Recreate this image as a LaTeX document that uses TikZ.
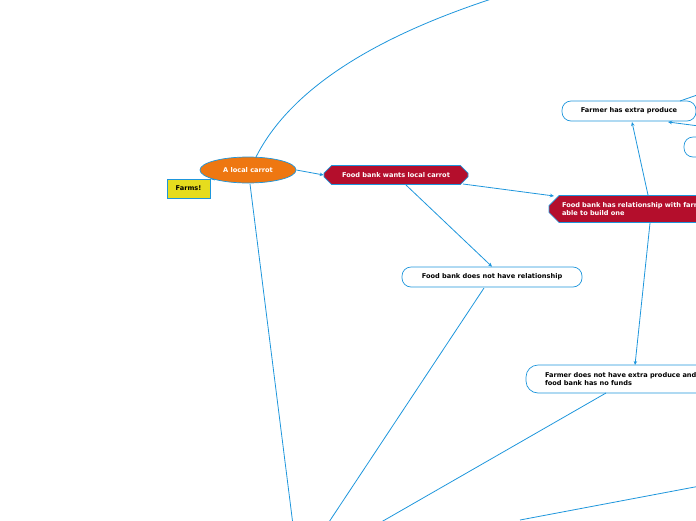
\documentclass[tikz,border=0pt]{standalone}
\usepackage{fontspec}
\setmainfont{DejaVu Sans}
\usetikzlibrary{shapes.misc,shapes.geometric,arrows.meta}
\definecolor{bl}{HTML}{1E96DC}
\definecolor{rd}{HTML}{B40E2C}
\definecolor{og}{HTML}{EE7711}
\definecolor{yl}{HTML}{E6DC1E}
\tikzset{x=1pt,y=-1pt,
 txt/.style={font=\fontsize{6.6}{8.4}\selectfont\bfseries},
 rbox/.style={txt,draw=bl,line width=0.7pt,rounded corners=9pt,fill=white,inner sep=0pt,minimum height=20pt,align=left},
 hexa/.style={txt,text=white,fill=rd,draw=bl,line width=0.7pt,chamfered rectangle,chamfered rectangle xsep=5pt,chamfered rectangle ysep=5pt,inner sep=0pt,align=left},
 con/.style={draw=bl,line width=0.8pt},
 arr/.style={con,-{Stealth[length=4pt,width=3.5pt]}}}
\begin{document}
\begin{tikzpicture}
\useasboundingbox (0,0) rectangle (696,520);
\clip (0,0) rectangle (696,520);
\node[txt,shape=ellipse,fill=og,draw=bl,line width=0.7pt,text=white,minimum width=96pt,minimum height=26pt,inner sep=0pt] (carrot) at (248,170) {A local carrot};
\node[txt,fill=yl,draw=bl,line width=0.7pt,minimum width=43pt,minimum height=19pt,inner sep=0pt] (farms) at (188.5,188.5) {Farms!};
\node[hexa,minimum width=144pt,minimum height=19pt] (wants) at (396,175) {Food bank wants local carrot};
\node[hexa,minimum width=240pt,minimum height=27pt,text width=214pt] (rel) at (669,209) {Food bank has relationship with farmer or is\\able to build one};
\node[rbox,minimum width=134pt] (extra) at (629,111) {Farmer has extra produce};
\node[rbox,minimum width=60pt] (small) at (714,147) {};
\node[rbox,minimum width=180pt] (norel) at (492,277) {Food bank does not have relationship};
\node[rbox,minimum width=250pt,minimum height=28pt,rounded corners=12pt,text width=212pt] (nofund) at (651,379) {Farmer does not have extra produce and\\food bank has no funds};
\coordinate (c1) at (293,525);
\coordinate (c2) at (327,525);
\coordinate (c3) at (376,525);
\coordinate (c4) at (520,520);
\coordinate (c5) at (700,486);
\coordinate (c6) at (520,-10);
\coordinate (c7) at (700,94);
\coordinate (c8) at (730,130);
\draw[con] (farms.north east) -- (215,180);
\draw[arr] (carrot.east) -- (wants.west);
\draw[con] (256,157) .. controls (300,70) and (420,20) .. (c6);
\draw[con] (250,184) -- (c1);
\draw[arr] (463,184) -- (554,196);
\draw[arr] (406,185) -- (norel.north);
\draw[arr] (648,195) -- (632,122);
\draw[arr] (650,223) -- (635,365);
\draw[arr] (c8) -- (668,122);
\draw[con] (680,101) -- (c7);
\draw[con] (484,288) -- (c2);
\draw[con] (606,393) -- (c3);
\draw[con] (c4) -- (c5);
\end{tikzpicture}
\end{document}
